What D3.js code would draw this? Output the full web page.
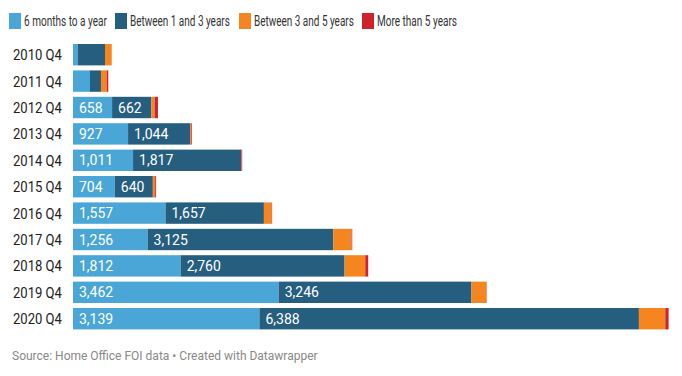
<!DOCTYPE html>
<html>
<head>
<meta charset="utf-8">
<script src="https://cdn.jsdelivr.net/npm/d3@7"></script>
<style>
  body { margin: 0; background: #fff; font-family: Roboto, sans-serif; }
</style>
</head>
<body>
<div id="chart"></div>
<script>
var width = 682, height = 376;

var quarters = ["2010 Q4", "2011 Q4", "2012 Q4", "2013 Q4", "2014 Q4", "2015 Q4",
                "2016 Q4", "2017 Q4", "2018 Q4", "2019 Q4", "2020 Q4"];
var seriesNames = ["6 months to a year", "Between 1 and 3 years", "Between 3 and 5 years", "More than 5 years"];
var sixToYear   = [79, 286, 658, 927, 1011, 704, 1557, 1256, 1812, 3462, 3139];
var oneToThree  = [460, 185, 662, 1044, 1817, 640, 1657, 3125, 2760, 3246, 6388];
var threeToFive = [113, 96, 55, 20, 8, 40, 130, 310, 348, 252, 444];
var overFive    = [0, 27, 55, 12, 12, 15, 8, 10, 50, 5, 56];
var colors = ["#4aa6d6", "#265e80", "#f5861f", "#d0222c"];

var rows = quarters.map(function(q, i) {
  return { q: q, v: [sixToYear[i], oneToThree[i], threeToFive[i], overFive[i]] };
});

var svg = d3.select("#chart").append("svg")
  .attr("width", width).attr("height", height);

var x = d3.scaleLinear().domain([0, 10000]).range([73, 73 + 594]);
var y = d3.scaleBand().domain(quarters).range([41.5, 41.5 + 26.4 * 11]).paddingInner(0.19).paddingOuter(0.095);

// squeeze a text horizontally to a target width (reference font is narrow)
function squeeze(sel, x0, y0, w) {
  var n = sel.node().getComputedTextLength();
  sel.attr("transform", "translate(" + x0 + "," + y0 + ") scale(" + (w / n) + ",1)");
}

// legend
var legendX = [9, 115, 239, 362];
var legendW = [83, 100, 100, 80];
seriesNames.forEach(function(d, i) {
  svg.append("rect").attr("x", legendX[i]).attr("y", 13)
    .attr("width", 12).attr("height", 16).attr("fill", colors[i]);
  var t = svg.append("text").attr("font-size", 15.5).attr("fill", "#333").text(d);
  squeeze(t, legendX[i] + 15, 26, legendW[i]);
});

// row labels
quarters.forEach(function(q) {
  var t = svg.append("text").attr("font-size", 15).attr("fill", "#222").text(q);
  squeeze(t, 13, y(q) + y.bandwidth() / 2 + 5.5, 49);
});

var fmt = d3.format(",");

rows.forEach(function(r) {
  var start = 0;
  r.v.forEach(function(v, j) {
    if (v > 0) {
      svg.append("rect")
        .attr("x", x(start)).attr("y", y(r.q))
        .attr("width", x(start + v) - x(start)).attr("height", y.bandwidth())
        .attr("fill", colors[j]);
      if (j < 2 && x(start + v) - x(start) > 30) {
        svg.append("text")
          .attr("x", x(start) + 6).attr("y", y(r.q) + y.bandwidth() / 2 + 5)
          .attr("font-size", 14).attr("fill", "#fff")
          .text(fmt(v));
      }
    }
    start += v;
  });
});

svg.append("text").attr("x", 12).attr("y", 360)
  .attr("font-size", 12).attr("fill", "#888")
  .text("Source: Home Office FOI data \u2022 Created with Datawrapper");
</script>
</body>
</html>
